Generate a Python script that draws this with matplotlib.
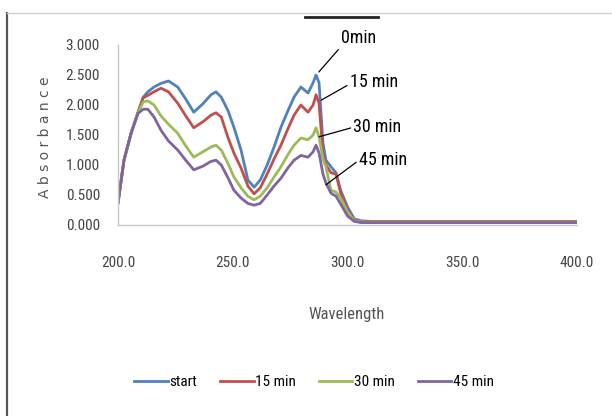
import matplotlib
matplotlib.use("Agg")
import matplotlib.pyplot as plt
from matplotlib.lines import Line2D
from matplotlib import font_manager

# ---- data ----
wl = [200, 202.6, 205.7, 208.7, 211, 213, 215.7, 218.7, 222, 226, 229.5, 233, 237, 240.5, 242.7,
      245, 248, 250.5, 253.6, 256.6, 259.3, 262, 265, 268, 271, 274, 276.7, 279.7, 282.8, 285,
      286.3, 287.6, 289.3, 290.6, 292.8, 295, 297, 300, 303, 306, 310, 320, 330, 340, 350, 360,
      370, 380, 390, 400]

start = [0.37, 1.08, 1.53, 1.88, 2.13, 2.22, 2.30, 2.36, 2.40, 2.30, 2.10, 1.88, 2.02, 2.17, 2.22,
         2.13, 1.90, 1.63, 1.25, 0.75, 0.63, 0.75, 1.00, 1.30, 1.63, 1.90, 2.13, 2.30, 2.20, 2.37,
         2.50, 2.37, 1.37, 1.08, 0.97, 0.87, 0.58, 0.30, 0.10, 0.07, 0.06, 0.06, 0.06, 0.06, 0.06,
         0.06, 0.06, 0.06, 0.06, 0.06]

min15 = [0.37, 1.08, 1.53, 1.87, 2.12, 2.16, 2.22, 2.28, 2.22, 2.03, 1.82, 1.62, 1.72, 1.83, 1.87,
         1.80, 1.45, 1.20, 0.95, 0.65, 0.52, 0.62, 0.85, 1.10, 1.33, 1.60, 1.83, 2.00, 1.88, 2.00,
         2.17, 2.03, 1.20, 1.00, 0.87, 0.85, 0.53, 0.25, 0.08, 0.06, 0.06, 0.06, 0.06, 0.06, 0.06,
         0.06, 0.06, 0.06, 0.06, 0.06]

min30 = [0.37, 1.08, 1.53, 1.87, 2.05, 2.07, 2.00, 1.82, 1.68, 1.53, 1.32, 1.13, 1.22, 1.30, 1.33,
         1.25, 1.02, 0.80, 0.62, 0.48, 0.42, 0.48, 0.62, 0.80, 0.97, 1.17, 1.33, 1.45, 1.42, 1.50,
         1.62, 1.47, 1.10, 0.97, 0.58, 0.55, 0.45, 0.22, 0.07, 0.05, 0.05, 0.05, 0.05, 0.05, 0.05,
         0.05, 0.05, 0.05, 0.05, 0.05]

min45 = [0.37, 1.08, 1.53, 1.86, 1.93, 1.93, 1.80, 1.58, 1.40, 1.25, 1.08, 0.92, 0.98, 1.06, 1.08,
         1.00, 0.78, 0.58, 0.45, 0.36, 0.33, 0.36, 0.50, 0.65, 0.78, 0.95, 1.08, 1.16, 1.13, 1.22,
         1.33, 1.20, 0.85, 0.70, 0.53, 0.48, 0.35, 0.15, 0.06, 0.04, 0.04, 0.04, 0.04, 0.04, 0.04,
         0.04, 0.04, 0.04, 0.04, 0.04]

series_names = ["start", "15 min", "30 min", "45 min"]
series_values = [start, min15, min30, min45]
colors = ["#4F81BD", "#C0504D", "#9BBB59", "#8064A2"]

x_ticks = [200, 250, 300, 350, 400]
y_ticks = [0.0, 0.5, 1.0, 1.5, 2.0, 2.5, 3.0]

annotations = [("0min", (287.5, 2.55), (297.0, 3.12), (0.05, 0.1)),
               ("15 min", (288.5, 2.08), (301.0, 2.38), (0.0, 0.4)),
               ("30 min", (287.6, 1.47), (302.6, 1.63), (0.0, 0.5)),
               ("45 min", (290.6, 0.67), (305.0, 1.08), (0.0, 0.5))]

# pick a narrow font if present
names = {f.name for f in font_manager.fontManager.ttflist}
cond = None
for cand in ["Liberation Sans Narrow", "DejaVu Sans Condensed", "Roboto Condensed", "Open Sans Condensed"]:
    if cand in names:
        cond = cand
        break
narrow = [cond, "DejaVu Sans"] if cond else ["Roboto", "DejaVu Sans"]

# ---- figure ----
W, H = 612, 416
fig = plt.figure(figsize=(W / 100, H / 100), dpi=100)
fig.patch.set_facecolor("white")

ax = fig.add_axes([118 / W, 1 - 225 / H, (577 - 118) / W, (225 - 45) / H])
for name, vals, c in zip(series_names, series_values, colors):
    ax.plot(wl, vals, color=c, lw=2.0, label=name, solid_joinstyle="round")

ax.set_xlim(200, 400)
ax.set_ylim(0, 3.0)
ax.set_xticks(x_ticks)
ax.set_xticklabels([f"{v:.1f}" for v in x_ticks], family=narrow, fontsize=11, color="#444444")
ax.set_yticks(y_ticks)
ax.set_yticklabels([f"{v:.3f}" for v in y_ticks], family=narrow, fontsize=11, color="#444444")
ax.tick_params(axis="both", length=0)
ax.tick_params(axis="y", pad=13)
ax.tick_params(axis="x", pad=22)
for s in ["top", "right"]:
    ax.spines[s].set_visible(False)
for s in ["left", "bottom"]:
    ax.spines[s].set_color("#C8C8C8")
    ax.spines[s].set_linewidth(1.0)

for text, xy, xytext, rel in annotations:
    ax.annotate(text, xy=xy, xytext=xytext, textcoords="data",
                ha="left", va="center", fontsize=13, family=narrow, color="black",
                annotation_clip=False,
                arrowprops=dict(arrowstyle="-", color="black", lw=0.9,
                                shrinkA=0, shrinkB=0, relpos=rel))

# axis labels
fig.text(45 / W, 1 - 137 / H, "A b s o r b a n c e", rotation=90, ha="center", va="center",
         fontsize=10, color="#555555", family=["DejaVu Sans"])
fig.text(347 / W, 1 - 315 / H, "Wavelength", ha="center", va="center",
         fontsize=12, color="#555555", family=narrow)

# legend
handles = [Line2D([0], [0], color=c, lw=2.0) for c in colors]
fig.legend(handles, series_names, loc="center", bbox_to_anchor=(314 / W, 1 - 382 / H),
           ncol=4, frameon=False, handlelength=2.2, handletextpad=0.1,
           columnspacing=1.5, prop={"family": narrow, "size": 11})

# chart frame lines
fig.add_artist(Line2D([7 / W, 7 / W], [0, 1 - 13 / H], color="#555555", lw=1.6))
fig.add_artist(Line2D([7 / W, 1.0], [1 - 13 / H, 1 - 13 / H], color="#D0D0D0", lw=1.0))
fig.add_artist(Line2D([305 / W, 378 / W], [1 - 17 / H, 1 - 17 / H], color="#222222", lw=2.0))

fig.savefig("out.png", dpi=100, facecolor="white")
